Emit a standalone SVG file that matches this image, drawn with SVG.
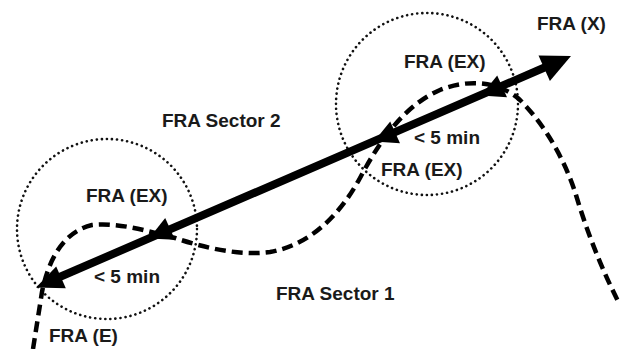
<svg xmlns="http://www.w3.org/2000/svg" width="622" height="349" viewBox="0 0 622 349">
<style>
.t{font-family:"Liberation Sans",Arial,sans-serif;font-weight:bold;font-size:19px;fill:#1a1a1a}
.dot{fill:none;stroke:#111;stroke-width:2.6;stroke-dasharray:0.1 5;stroke-linecap:round}
.dash{fill:none;stroke:#000;stroke-width:4.5;stroke-dasharray:11 6}
.main{fill:none;stroke:#000;stroke-width:8}
.tri{fill:#000}
</style>
<rect width="622" height="349" fill="#fff"/>
<g id="circle-left"><circle class="dot" cx="107" cy="229" r="90"/></g>
<g id="circle-right"><circle class="dot" cx="427" cy="104" r="91"/></g>
<g id="connectors">
<path class="dash" d="M33,349 L42,292 C48,262 62,232 92,225 C120,222 150,232 175,238 C205,248 240,256 270,252 C310,245 340,215 360,178 C380,140 405,105 440,90 C470,78 500,82 520,100 C545,125 565,160 576,195 C587,232 602,270 620,305"/>
<line class="main" x1="55" y1="279" x2="548" y2="66"/>
<polygon class="tri" points="571,56 538.5,55.5 549.9,81"/>
<polygon class="tri" points="36,287.5 56.2,266.5 65.8,288.3"/>
<polygon class="tri" points="149,238.5 165.2,218 175,239.8"/>
<polygon class="tri" points="374,141.5 390.2,121.5 400,143.3"/>
<polygon class="tri" points="481,95.5 497.2,75.5 507,97.3"/>
</g>
<g id="labels">
<text class="t" x="537" y="30">FRA (X)</text>
<text class="t" x="404" y="68">FRA (EX)</text>
<text class="t" x="414" y="144">&lt; 5 min</text>
<text class="t" x="381" y="176">FRA (EX)</text>
<text class="t" x="162" y="127">FRA Sector 2</text>
<text class="t" x="86" y="202">FRA (EX)</text>
<text class="t" x="94" y="283">&lt; 5 min</text>
<text class="t" x="49" y="342">FRA (E)</text>
<text class="t" x="276" y="300">FRA Sector 1</text>
</g>
</svg>
